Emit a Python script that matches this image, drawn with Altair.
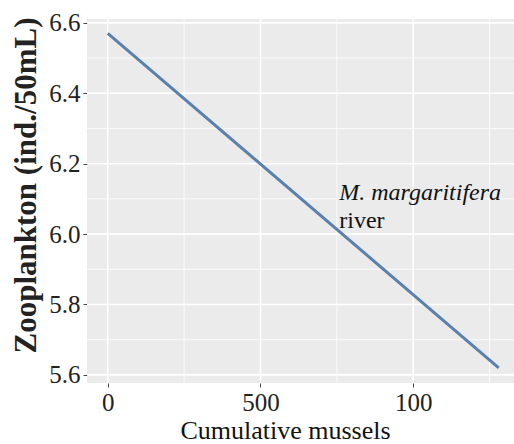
import altair as alt
import pandas as pd

# ---- data ----
mussels = [0, 1280]
zooplankton = [6.57, 5.62]

x_major = [0, 500, 1000]
x_minor = [250, 750, 1250]
x_tick_labels = ["0", "500", "100"]
y_major = [5.6, 5.8, 6.0, 6.2, 6.4, 6.6]
y_minor = [5.7, 5.9, 6.1, 6.3, 6.5]

annot_x = [758, 758]
annot_y = [6.097, 6.018]
annot_text = ["M. margaritifera", "river"]
annot_style = ["italic", "normal"]

x_domain = [-68, 1330]
y_domain = [5.577, 6.611]

FONT = "Tinos, 'Times New Roman', 'Liberation Serif', 'Nimbus Roman', Times, serif"
TITLE_FONT = FONT

line_df = pd.DataFrame({"mussels": mussels, "zoo": zooplankton})
xmaj_df = pd.DataFrame({"v": x_major})
xmin_df = pd.DataFrame({"v": x_minor})
ymaj_df = pd.DataFrame({"v": y_major})
ymin_df = pd.DataFrame({"v": y_minor})
annot_df = pd.DataFrame({"x": annot_x, "y": annot_y, "t": annot_text, "s": annot_style})

xs = alt.Scale(domain=x_domain, nice=False, zero=False)
ys = alt.Scale(domain=y_domain, nice=False, zero=False)

label_expr = " : ".join(
    [f"datum.value == {v} ? '{l}'" for v, l in zip(x_major, x_tick_labels)] + ["datum.label"]
)

x_axis = alt.Axis(
    values=x_major, labelExpr=label_expr, grid=False, domain=False,
    tickSize=4, tickColor="#444444", labelPadding=3,
    labelFont=FONT, labelFontSize=25, labelColor="#222222",
    title="Cumulative mussels", titleFont=TITLE_FONT, titleFontSize=26,
    titleFontWeight="normal", titleColor="#111111",
    titleX=198, titleY=55, titleBaseline="alphabetic", titleAlign="center",
)
y_axis = alt.Axis(
    values=y_major, format=".1f", grid=False, domain=False,
    tickSize=4, tickColor="#444444", labelPadding=3,
    labelFont=FONT, labelFontSize=25, labelColor="#222222",
    title="Zooplankton (ind./50mL)", titleFont=TITLE_FONT, titleFontSize=31,
    titleFontWeight="bold", titleColor="#222222",
    titleX=-61, titleY=166, titleBaseline="middle", titleAlign="center", titleAngle=-90,
)

X = lambda f: alt.X(f, scale=xs, axis=x_axis)
Y = lambda f: alt.Y(f, scale=ys, axis=y_axis)

minor_x = alt.Chart(xmin_df).mark_rule(color="white", strokeWidth=0.8).encode(x=X("v:Q"))
major_x = alt.Chart(xmaj_df).mark_rule(color="white", strokeWidth=1.6).encode(x=X("v:Q"))
minor_y = alt.Chart(ymin_df).mark_rule(color="white", strokeWidth=0.8).encode(y=Y("v:Q"))
major_y = alt.Chart(ymaj_df).mark_rule(color="white", strokeWidth=1.6).encode(y=Y("v:Q"))

line = alt.Chart(line_df).mark_line(color="#5B80AE", strokeWidth=3, clip=True).encode(
    x=X("mussels:Q"), y=Y("zoo:Q"))

annot_it = alt.Chart(annot_df[annot_df.s == "italic"]).mark_text(
    align="left", baseline="alphabetic", font=FONT, fontSize=24, fontStyle="italic", color="#111111"
).encode(x=X("x:Q"), y=Y("y:Q"), text="t:N")
annot_no = alt.Chart(annot_df[annot_df.s == "normal"]).mark_text(
    align="left", baseline="alphabetic", font=FONT, fontSize=24, color="#111111"
).encode(x=X("x:Q"), y=Y("y:Q"), text="t:N")

chart = alt.layer(minor_x, minor_y, major_x, major_y, line, annot_it, annot_no).properties(
    width=427, height=364,
    autosize=alt.AutoSizeParams(type="none"),
    padding={"left": 87, "top": 19, "right": 0, "bottom": 61},
    background="white",
).configure_view(fill="#EBEBEB", stroke=None)

chart.save("out.html", embed_options={"renderer": "svg", "actions": False})
